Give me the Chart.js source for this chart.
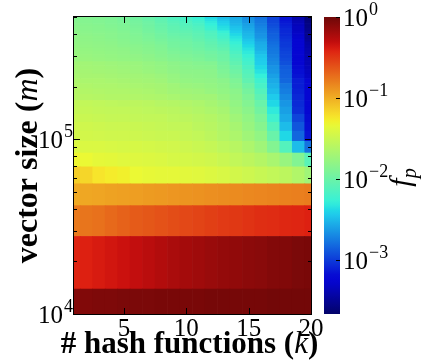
<!DOCTYPE html>
<html>
<head>
<meta charset="utf-8">
<title>Bloom filter false positive rate</title>
<script src="https://cdn.jsdelivr.net/npm/chart.js@4.4.5/dist/chart.umd.min.js"></script>
<style>
    html, body { margin: 0; padding: 0; background: #fff; }
</style>
</head>
<body>
<canvas id="fpChart" width="422" height="360"></canvas>

<script>
    // number of hash functions, one column per k
    const kValues = [1, 2, 3, 4, 5, 6, 7, 8, 9, 10, 11, 12, 13, 14, 15, 16, 17, 18, 19, 20];

    // vector size bands (row boundaries), bottom to top
    const mEdges = [10000, 13889, 27778, 41667, 55556, 69444, 83333, 97222, 111111, 125000,
        138889, 152778, 166667, 180556, 194444, 208333, 222222, 236111, 250000, 263889,
        277778, 291667, 305556, 319444, 333333, 347222, 361111, 375000, 388889, 402778,
        416667, 430556, 444444, 458333, 472222, 486111, 500000];

    // log10 of the measured false positive rate, one row per band, one entry per k
    const fpLogRows = [
        [-0.08, -0.07, -0.06, -0.06, -0.05, -0.05, -0.05, -0.04, -0.04, -0.04, -0.04, -0.03, -0.03, -0.03, -0.03, -0.03, -0.02, -0.02, -0.02, -0.02],
        [-0.42, -0.40, -0.38, -0.36, -0.34, -0.31, -0.28, -0.25, -0.22, -0.20, -0.18, -0.16, -0.14, -0.13, -0.11, -0.10, -0.08, -0.07, -0.05, -0.04],
        [-0.78, -0.76, -0.74, -0.71, -0.68, -0.65, -0.63, -0.61, -0.59, -0.57, -0.55, -0.53, -0.51, -0.50, -0.48, -0.46, -0.45, -0.43, -0.42, -0.40],
        [-0.98, -0.97, -0.96, -0.95, -0.94, -0.93, -0.92, -0.91, -0.90, -0.89, -0.88, -0.87, -0.86, -0.85, -0.84, -0.83, -0.82, -0.81, -0.80, -0.79],
        [-1.13, -1.17, -1.23, -1.26, -1.28, -1.32, -1.34, -1.35, -1.35, -1.37, -1.38, -1.40, -1.42, -1.45, -1.48, -1.51, -1.54, -1.57, -1.63, -1.72],
        [-1.30, -1.32, -1.35, -1.36, -1.38, -1.39, -1.40, -1.41, -1.43, -1.44, -1.45, -1.47, -1.50, -1.54, -1.57, -1.61, -1.67, -1.76, -1.88, -2.09],
        [-1.40, -1.41, -1.41, -1.42, -1.43, -1.43, -1.44, -1.45, -1.46, -1.48, -1.50, -1.52, -1.56, -1.59, -1.65, -1.72, -1.87, -2.12, -2.49, -2.78],
        [-1.45, -1.45, -1.46, -1.47, -1.47, -1.48, -1.49, -1.50, -1.50, -1.52, -1.54, -1.57, -1.61, -1.65, -1.72, -1.79, -2.01, -2.38, -2.82, -3.15],
        [-1.46, -1.47, -1.48, -1.49, -1.49, -1.50, -1.51, -1.52, -1.53, -1.54, -1.57, -1.59, -1.63, -1.68, -1.76, -1.85, -2.12, -2.49, -2.89, -3.17],
        [-1.49, -1.50, -1.51, -1.52, -1.52, -1.53, -1.54, -1.54, -1.56, -1.57, -1.59, -1.61, -1.65, -1.72, -1.79, -1.90, -2.23, -2.56, -2.96, -3.18],
        [-1.52, -1.52, -1.53, -1.54, -1.54, -1.55, -1.56, -1.57, -1.58, -1.60, -1.62, -1.65, -1.68, -1.76, -1.83, -1.96, -2.31, -2.60, -3.04, -3.20],
        [-1.54, -1.54, -1.55, -1.56, -1.57, -1.57, -1.58, -1.60, -1.61, -1.63, -1.65, -1.68, -1.72, -1.79, -1.87, -2.01, -2.38, -2.64, -3.06, -3.20],
        [-1.60, -1.60, -1.61, -1.62, -1.62, -1.63, -1.64, -1.65, -1.67, -1.69, -1.70, -1.71, -1.76, -1.81, -1.90, -2.07, -2.43, -2.69, -3.07, -3.22],
        [-1.61, -1.62, -1.63, -1.64, -1.64, -1.65, -1.66, -1.68, -1.71, -1.72, -1.73, -1.76, -1.79, -1.83, -1.94, -2.12, -2.49, -2.73, -3.09, -3.23],
        [-1.63, -1.64, -1.65, -1.65, -1.66, -1.67, -1.68, -1.69, -1.72, -1.75, -1.76, -1.78, -1.81, -1.87, -1.99, -2.18, -2.53, -2.76, -3.11, -3.24],
        [-1.65, -1.66, -1.66, -1.67, -1.68, -1.69, -1.70, -1.72, -1.76, -1.78, -1.79, -1.80, -1.83, -1.90, -2.05, -2.23, -2.56, -2.82, -3.11, -3.26],
        [-1.67, -1.68, -1.68, -1.69, -1.70, -1.71, -1.72, -1.74, -1.77, -1.80, -1.81, -1.82, -1.87, -1.94, -2.09, -2.29, -2.60, -2.84, -3.15, -3.31],
        [-1.69, -1.69, -1.70, -1.71, -1.72, -1.73, -1.75, -1.77, -1.80, -1.82, -1.82, -1.83, -1.90, -1.98, -2.12, -2.34, -2.64, -2.85, -3.17, -3.33],
        [-1.69, -1.70, -1.71, -1.72, -1.73, -1.74, -1.76, -1.78, -1.81, -1.83, -1.84, -1.85, -1.92, -2.01, -2.16, -2.38, -2.65, -2.87, -3.18, -3.35],
        [-1.71, -1.71, -1.72, -1.73, -1.74, -1.75, -1.77, -1.79, -1.82, -1.84, -1.86, -1.87, -1.94, -2.05, -2.20, -2.42, -2.69, -2.91, -3.20, -3.37],
        [-1.75, -1.75, -1.76, -1.77, -1.78, -1.79, -1.81, -1.83, -1.86, -1.88, -1.90, -1.93, -1.98, -2.09, -2.23, -2.43, -2.71, -2.93, -3.20, -3.37],
        [-1.75, -1.76, -1.77, -1.78, -1.79, -1.80, -1.82, -1.85, -1.88, -1.90, -1.92, -1.95, -1.99, -2.12, -2.27, -2.45, -2.73, -2.95, -3.22, -3.39],
        [-1.76, -1.77, -1.78, -1.79, -1.80, -1.82, -1.84, -1.86, -1.90, -1.92, -1.94, -1.97, -2.01, -2.16, -2.31, -2.49, -2.75, -2.96, -3.22, -3.40],
        [-1.77, -1.78, -1.79, -1.80, -1.81, -1.83, -1.85, -1.88, -1.92, -1.94, -1.97, -2.01, -2.05, -2.20, -2.34, -2.53, -2.76, -2.98, -3.24, -3.40],
        [-1.78, -1.79, -1.80, -1.81, -1.83, -1.84, -1.86, -1.89, -1.94, -1.96, -1.99, -2.03, -2.09, -2.23, -2.38, -2.54, -2.78, -3.00, -3.24, -3.42],
        [-1.79, -1.80, -1.81, -1.82, -1.84, -1.86, -1.88, -1.91, -1.95, -1.97, -2.00, -2.05, -2.12, -2.27, -2.42, -2.56, -2.80, -3.00, -3.26, -3.44],
        [-1.80, -1.81, -1.82, -1.83, -1.85, -1.87, -1.90, -1.93, -1.97, -1.99, -2.03, -2.08, -2.16, -2.31, -2.45, -2.60, -2.82, -3.02, -3.26, -3.48],
        [-1.80, -1.81, -1.82, -1.84, -1.86, -1.88, -1.91, -1.95, -1.99, -2.01, -2.05, -2.11, -2.20, -2.34, -2.49, -2.64, -2.84, -3.04, -3.28, -3.50],
        [-1.81, -1.82, -1.83, -1.84, -1.86, -1.89, -1.92, -1.96, -2.01, -2.03, -2.07, -2.13, -2.23, -2.38, -2.51, -2.65, -2.85, -3.06, -3.29, -3.51],
        [-1.82, -1.83, -1.84, -1.85, -1.87, -1.90, -1.94, -1.98, -2.03, -2.05, -2.09, -2.15, -2.27, -2.42, -2.53, -2.67, -2.87, -3.07, -3.31, -3.51],
        [-1.83, -1.84, -1.85, -1.86, -1.89, -1.91, -1.95, -2.00, -2.05, -2.08, -2.12, -2.23, -2.34, -2.45, -2.56, -2.69, -2.89, -3.07, -3.33, -3.53],
        [-1.83, -1.84, -1.85, -1.87, -1.89, -1.92, -1.96, -2.01, -2.06, -2.10, -2.14, -2.25, -2.36, -2.47, -2.58, -2.71, -2.91, -3.09, -3.33, -3.55],
        [-1.84, -1.85, -1.86, -1.88, -1.90, -1.93, -1.97, -2.02, -2.08, -2.12, -2.17, -2.29, -2.40, -2.51, -2.60, -2.73, -2.93, -3.11, -3.35, -3.55],
        [-1.85, -1.86, -1.87, -1.89, -1.91, -1.94, -1.98, -2.04, -2.10, -2.14, -2.20, -2.31, -2.42, -2.53, -2.64, -2.75, -2.95, -3.13, -3.37, -3.57],
        [-1.86, -1.86, -1.87, -1.89, -1.92, -1.95, -2.00, -2.05, -2.12, -2.17, -2.23, -2.34, -2.45, -2.54, -2.65, -2.76, -2.96, -3.15, -3.39, -3.59],
        [-1.86, -1.87, -1.88, -1.90, -1.93, -1.96, -2.01, -2.07, -2.14, -2.19, -2.27, -2.38, -2.49, -2.56, -2.67, -2.78, -2.96, -3.15, -3.40, -3.59]
    ];

    // colour scale limits (log10 f_p) and tick positions
    const fpLogMin = -3.66;
    const fpLogMax = 0;
    const xTicks = [5, 10, 15, 20];
    const yMajorTicks = [1e4, 1e5];
    const yMinorTicks = [2e4, 3e4, 4e4, 5e4, 6e4, 7e4, 8e4, 9e4, 2e5, 3e5, 4e5, 5e5];
    const cbTicks = [0, -1, -2, -3];

    // matplotlib "jet" colormap, slightly muted
    const jetR = [[0, 0], [0.35, 0], [0.66, 1], [0.89, 1], [1, 0.5]];
    const jetG = [[0, 0], [0.125, 0], [0.375, 1], [0.64, 1], [0.91, 0], [1, 0]];
    const jetB = [[0, 0.5], [0.11, 1], [0.34, 1], [0.65, 0], [1, 0]];
    const saturation = 0.8;

    function channel(pts, t) {
        for (let i = 1; i < pts.length; i++) {
            if (t <= pts[i][0]) {
                const [t0, v0] = pts[i - 1];
                const [t1, v1] = pts[i];
                return v0 + (v1 - v0) * (t - t0) / (t1 - t0);
            }
        }
        return pts[pts.length - 1][1];
    }

    function jet(t) {
        t = Math.min(1, Math.max(0, t));
        const r = 255 * channel(jetR, t);
        const g = 255 * channel(jetG, t);
        const b = 255 * channel(jetB, t);
        const lum = 0.3 * r + 0.59 * g + 0.11 * b;
        const mix = c => Math.round(lum + saturation * (c - lum));
        return `rgb(${mix(r)},${mix(g)},${mix(b)})`;
    }

    function fpColor(logFp) {
        return jet((logFp - fpLogMin) / (fpLogMax - fpLogMin));
    }

    // one floating-bar dataset per vector size band
    const datasets = fpLogRows.map((row, i) => ({
        data: kValues.map(k => ({ x: k, y: [mEdges[i], mEdges[i + 1]] })),
        backgroundColor: row.map(fpColor),
        borderWidth: 0,
        grouped: false,
        barPercentage: 1,
        categoryPercentage: 1,
        clip: 0
    }));

    const serif = '"Liberation Serif", "DejaVu Serif", serif';

    // base "10" with a raised exponent
    function drawPower(ctx, exp, x, y, align) {
        ctx.font = `25px ${serif}`;
        const wb = ctx.measureText('10').width;
        ctx.font = `18px ${serif}`;
        const we = ctx.measureText(exp).width;
        const x0 = align === 'right' ? x - wb - we - 1 : x;
        ctx.textAlign = 'left';
        ctx.textBaseline = 'middle';
        ctx.font = `25px ${serif}`;
        ctx.fillText('10', x0, y);
        ctx.font = `18px ${serif}`;
        ctx.fillText(exp, x0 + wb + 1, y - 9);
    }

    // draws pieces of text in a row, each with its own font
    function drawRuns(ctx, runs, x, y) {
        let w = 0;
        runs.forEach(r => { ctx.font = r.font; w += ctx.measureText(r.text).width; });
        let cx = x - w / 2;
        ctx.textAlign = 'left';
        runs.forEach(r => {
            ctx.font = r.font;
            ctx.fillText(r.text, cx, y + (r.dy || 0));
            cx += ctx.measureText(r.text).width;
        });
    }

    const decorations = {
        id: 'decorations',
        afterDatasetsDraw(chart) {
            const { ctx, chartArea: a, scales } = chart;
            const { x, y, cb } = scales;
            ctx.save();

            // colorbar
            const cbLeft = 324, cbRight = 340;
            const cbTop = cb.getPixelForValue(1);
            const cbBottom = cb.getPixelForValue(Math.pow(10, fpLogMin));
            const grad = ctx.createLinearGradient(0, cbBottom, 0, cbTop);
            for (let i = 0; i <= 60; i++) grad.addColorStop(i / 60, jet(i / 60));
            ctx.fillStyle = grad;
            ctx.fillRect(cbLeft, cbTop, cbRight - cbLeft, cbBottom - cbTop);

            ctx.strokeStyle = '#000';
            ctx.lineWidth = 1;

            // frame
            ctx.strokeRect(Math.round(a.left) - 0.5, Math.round(a.top) - 0.5,
                Math.round(a.width) + 1, Math.round(a.height) + 1);

            // inward ticks
            ctx.beginPath();
            xTicks.forEach(v => {
                const px = Math.round(x.getPixelForValue(v)) + 0.5;
                ctx.moveTo(px, a.bottom); ctx.lineTo(px, a.bottom - 6);
                ctx.moveTo(px, a.top); ctx.lineTo(px, a.top + 6);
            });
            yMajorTicks.forEach(v => {
                const py = Math.round(y.getPixelForValue(v)) + 0.5;
                ctx.moveTo(a.left, py); ctx.lineTo(a.left + 6, py);
                ctx.moveTo(a.right, py); ctx.lineTo(a.right - 6, py);
            });
            yMinorTicks.forEach(v => {
                const py = Math.round(y.getPixelForValue(v)) + 0.5;
                ctx.moveTo(a.left, py); ctx.lineTo(a.left + 3, py);
                ctx.moveTo(a.right, py); ctx.lineTo(a.right - 3, py);
            });
            cbTicks.forEach(v => {
                const py = Math.round(cb.getPixelForValue(Math.pow(10, v))) + 0.5;
                ctx.moveTo(cbRight, py); ctx.lineTo(cbRight - 4, py);
            });
            ctx.stroke();

            ctx.fillStyle = '#000';

            // x tick labels
            ctx.font = `25px ${serif}`;
            ctx.textAlign = 'center';
            ctx.textBaseline = 'top';
            xTicks.forEach(v => ctx.fillText(String(v), x.getPixelForValue(v), a.bottom + 3));

            // y tick labels
            yMajorTicks.forEach(v => drawPower(ctx, String(Math.round(Math.log10(v))), a.left - 1, y.getPixelForValue(v) + 2, 'right'));

            // colorbar labels
            cbTicks.forEach(v => drawPower(ctx, v === 0 ? '0' : '\u2212' + Math.abs(v), cbRight + 3, cb.getPixelForValue(Math.pow(10, v)) + 2, 'left'));

            // axis titles
            ctx.textBaseline = 'alphabetic';
            drawRuns(ctx, [
                { text: '# hash functions (', font: `bold 31px ${serif}` },
                { text: 'k', font: `italic 31px ${serif}` },
                { text: ')', font: `bold 31px ${serif}` }
            ], (a.left + a.right) / 2 - 3, 353);

            ctx.save();
            ctx.translate(37, (a.top + a.bottom) / 2);
            ctx.rotate(-Math.PI / 2);
            drawRuns(ctx, [
                { text: 'vector size (', font: `bold 32px ${serif}` },
                { text: 'm', font: `italic 32px ${serif}` },
                { text: ')', font: `bold 32px ${serif}` }
            ], 0, 0);
            ctx.restore();

            ctx.save();
            ctx.translate(410, (cbTop + cbBottom) / 2 + 12);
            ctx.rotate(-Math.PI / 2);
            drawRuns(ctx, [
                { text: 'f', font: `italic 30px ${serif}` },
                { text: 'p', font: `italic 20px ${serif}`, dy: 6 }
            ], 0, 0);
            ctx.restore();

            ctx.restore();
        }
    };

    new Chart(document.getElementById('fpChart'), {
        type: 'bar',
        data: { datasets },
        options: {
            responsive: false,
            animation: false,
            devicePixelRatio: 1,
            layout: { padding: { left: 74, top: 17, right: 111, bottom: 46 } },
            plugins: {
                legend: { display: false },
                tooltip: { enabled: false }
            },
            scales: {
                x: { type: 'linear', min: 1, max: 20, offset: false, display: false },
                y: { type: 'logarithmic', min: 1e4, max: 5e5, display: false },
                cb: { type: 'logarithmic', axis: 'y', position: 'right', min: Math.pow(10, fpLogMin), max: 1, display: false }
            }
        },
        plugins: [decorations]
    });
</script>
</body>
</html>
